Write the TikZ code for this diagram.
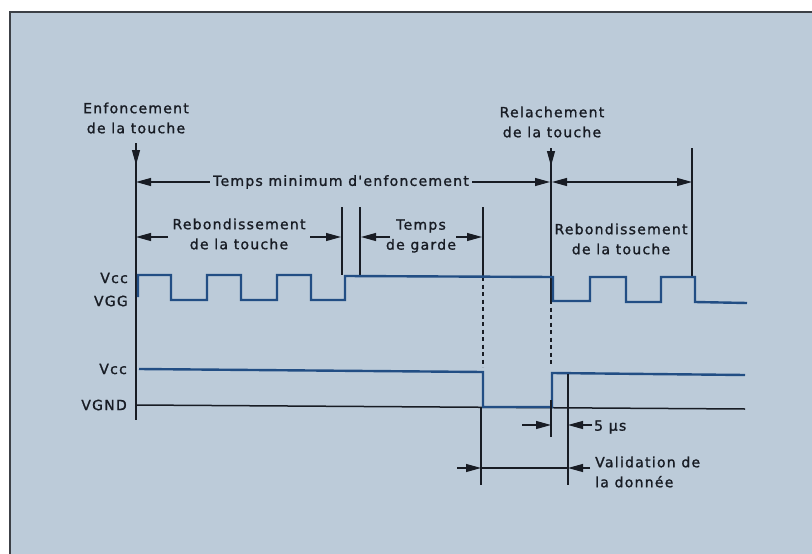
\documentclass[tikz,border=0pt]{standalone}
\usepackage{fontspec}
\newfontfamily\draftfont[LetterSpace=9,FakeBold=1.3]{DejaVu Sans}
\usetikzlibrary{arrows.meta}
\definecolor{bgblue}{RGB}{188,203,217}
\definecolor{wave}{RGB}{34,78,132}
\definecolor{ink}{RGB}{24,28,36}
\definecolor{frame}{RGB}{60,64,70}
\begin{document}
\begin{tikzpicture}[x=1pt,y=-1pt,
  lbl/.style={font=\draftfont\fontsize{14}{20}\selectfont, text=ink, inner sep=0pt, align=center},
  thinline/.style={draw=ink, line width=1.1pt},
  dimarrow/.style={thinline, -{Triangle[length=15pt,width=8pt]}},
  dimboth/.style={thinline, {Triangle[length=15pt,width=8pt]}-{Triangle[length=15pt,width=8pt]}},
  dashline/.style={draw=ink, line width=1.2pt, dash pattern=on 4pt off 3.5pt},
  wavestyle/.style={draw=wave, line width=2.4pt, line join=miter},
  gndline/.style={draw=ink, line width=1.5pt}]
\useasboundingbox (0,0) rectangle (812,554);
\fill[white] (0,0) rectangle (812,554);
\fill[bgblue] (10,12) rectangle (812,554);
\draw[frame, line width=1.6pt] (10,554) -- (10,12) -- (812,12);

% ---- labels top
\node[lbl] (enf) at (136,118) {Enfoncement\\de la touche};
\node[lbl] (rel) at (552,122) {Relachement\\de la touche};

% ---- main axis
\coordinate (axTop) at (136,143);
\coordinate (axArr) at (136,165);
\coordinate (axBot) at (136,420);
\draw[thinline] (axTop) -- (axBot);
\draw[dimarrow] (axTop) -- (axArr);

% ---- release line
\coordinate (relTop) at (551,148);
\coordinate (relArr) at (551,166);
\coordinate (relBot) at (551,300);
\coordinate (relDash) at (551,367);
\draw[thinline] (relTop) -- (relBot);
\draw[dimarrow] (relTop) -- (relArr);
\draw[dashline] (relBot) -- (relDash);

% ---- Temps minimum d'enfoncement
\node[lbl] (tmin) at (341,182) {Temps minimum d'enfoncement};
\coordinate (tminL) at (136,182);
\coordinate (tminR) at (550,182);
\draw[dimarrow] ([xshift=-3pt]tmin.west) -- (tminL);
\draw[dimarrow] ([xshift=3pt]tmin.east) -- (tminR);

% ---- right bounce span
\coordinate (rbL) at (552,182);
\coordinate (rbR) at (692,182);
\draw[dimboth] (rbL) -- (rbR);
\coordinate (v692t) at (692,148);
\coordinate (v692b) at (692,277);
\draw[thinline] (v692t) -- (v692b);
\node[lbl] (reb2) at (621,239) {Rebondissement\\de la touche};

% ---- left bounce span
\node[lbl] (reb1) at (239,234) {Rebondissement\\de la touche};
\coordinate (r1a) at (168,237);
\coordinate (r1b) at (136,237);
\coordinate (r1c) at (310,237);
\coordinate (r1d) at (341,237);
\draw[dimarrow] (r1a) -- (r1b);
\draw[dimarrow] (r1c) -- (r1d);
\coordinate (v342t) at (342,207);
\coordinate (v342b) at (342,275);
\coordinate (v360t) at (360,207);
\coordinate (v360b) at (360,275);
\draw[thinline] (v342t) -- (v342b);
\draw[thinline] (v360t) -- (v360b);

% ---- Temps de garde
\node[lbl] (garde) at (421,236) {Temps\\de garde};
\coordinate (g1a) at (390,237);
\coordinate (g1b) at (361,237);
\coordinate (g2a) at (456,237);
\coordinate (g2b) at (482,237);
\draw[dimarrow] (g1a) -- (g1b);
\draw[dimarrow] (g2a) -- (g2b);
\coordinate (v483t) at (483,207);
\coordinate (v483b) at (483,277);
\coordinate (v483d) at (483,367);
\draw[thinline] (v483t) -- (v483b);
\draw[dashline] (v483b) -- (v483d);

% ---- level labels
\node[lbl, anchor=east] (vcc1) at (128,278) {Vcc};
\node[lbl, anchor=east] (vgg) at (128,301) {VGG};
\node[lbl, anchor=east] (vcc2) at (127,369) {Vcc};
\node[lbl, anchor=east] (vgnd) at (127,405) {VGND};

% ---- waveform 1
\draw[wavestyle] (138,297) -- (138,275) -- (171,275) -- (171,300) -- (207,300) -- (207,275)
  -- (241,275) -- (241,300) -- (277,300) -- (277,275) -- (311,275) -- (311,300) -- (345,300)
  -- (345,276) -- (553,277) -- (553,301) -- (590,301) -- (590,277) -- (626,277) -- (626,302)
  -- (661,302) -- (661,277) -- (695,277) -- (695,302) -- (747,303);

% ---- ground line and waveform 2
\draw[gndline] (136,405) -- (745,409);
\draw[wavestyle] (139,369) -- (483,372) -- (483,407) -- (552,407) -- (552,373) -- (745,375);

% ---- lower verticals
\coordinate (d1t) at (481,407);
\coordinate (d1b) at (481,485);
\coordinate (d2t) at (551,400);
\coordinate (d2b) at (551,437);
\coordinate (d3t) at (568,374);
\coordinate (d3b) at (568,485);
\draw[thinline] (d1t) -- (d1b);
\draw[thinline] (d2t) -- (d2b);
\draw[thinline] (d3t) -- (d3b);

% ---- 5 us
\node[lbl, anchor=west] (five) at (594,427) {5 µs};
\coordinate (f1a) at (522,425);
\coordinate (f1b) at (551,425);
\coordinate (f2b) at (568,425);
\draw[dimarrow] (f1a) -- (f1b);
\draw[dimarrow] ([xshift=-2pt]five.west |- f2b) -- (f2b);

% ---- Validation de la donnee
\node[lbl, anchor=west, align=left] (valid) at (595,472) {Validation de\\la donnée};
\coordinate (va) at (457,468);
\coordinate (vb) at (481,468);
\coordinate (vc) at (568,468);
\coordinate (vd) at (590,468);
\draw[dimarrow] (va) -- (vb);
\draw[thinline] (vb) -- (vc);
\draw[dimarrow] (vd) -- (vc);
\end{tikzpicture}
\end{document}
